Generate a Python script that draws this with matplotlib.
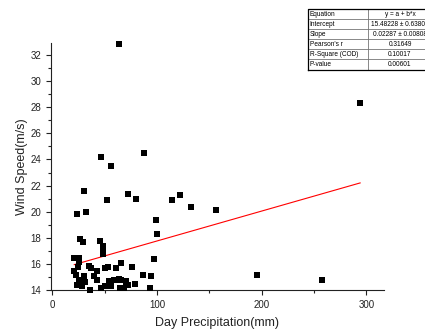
import numpy as np
import matplotlib
matplotlib.use("Agg")
from matplotlib import pyplot as plt

plt.rcParams['font.family'] = ['Liberation Sans', 'DejaVu Sans']

# day precipitation (mm) and wind speed (m/s)
precip = [21, 25.5, 25.8, 21, 23, 25, 26.7, 29, 30.6, 26, 24, 28.7, 31.5,
          35, 37, 36.3, 40, 42.7, 42.7, 45.8, 48.4, 48.4, 48.4, 46.8, 50,
          50.3, 52.8, 54.4, 56.4, 58.5, 61, 62.4, 65, 65.6, 65.6, 68.8,
          70.7, 72.6, 76.4, 79, 86.6, 94, 93.6, 97, 63.3, 70,
          23.6, 30.6, 32.5, 52.5, 56.4, 72.6, 80, 99.3, 100.3, 114.3,
          122.3, 132.8, 156.6, 195.5, 257.6, 294, 64, 47, 88]
wind = [16.5, 16.5, 16.2, 15.5, 15.2, 15.8, 17.9, 17.7, 15.1, 14.8, 14.4,
        14.3, 14.6, 15.85, 15.7, 14.0, 15.1, 15.5, 14.8, 17.8, 17.4, 17.1,
        16.8, 14.15, 14.35, 15.7, 15.8, 14.7, 14.3, 14.8, 15.7, 14.8, 14.2,
        16.1, 14.8, 14.15, 14.7, 14.4, 15.8, 14.45, 15.2, 15.1, 14.2, 16.4,
        14.9, 14.55,
        19.8, 21.6, 20.0, 20.9, 23.5, 21.35, 21.0, 19.4, 18.3, 20.9,
        21.3, 20.4, 20.1, 15.2, 14.8, 28.3, 32.8, 24.2, 24.5]

# linear fit reported in the table
intercept = 15.48228
slope = 0.02287

table_keys = ["Equation", "Intercept", "Slope", "Pearson's r",
              "R-Square (COD)", "P-value"]
table_vals = ["y = a + b*x", "15.48228 \u00b1 0.63808", "0.02287 \u00b1 0.00808",
              "0.31649", "0.10017", "0.00601"]

fig = plt.figure(figsize=(4.25, 3.29), dpi=100)
ax = fig.add_axes([51/425, 1-290.3/329, (383.7-51)/425, (290.3-43)/329])

ax.scatter(precip, wind, marker="s", s=20, color="black", linewidths=0,
           zorder=3, clip_on=False)
xf = np.array([min(precip), max(precip)])
ax.plot(xf, intercept + slope*xf, color="red", lw=0.8, zorder=2)

ax.set_xlim(-1.2, 316.5)
ax.set_ylim(14, 32.9)
ax.set_xticks([0, 100, 200, 300])
ax.set_xticks([50, 150, 250], minor=True)
ax.set_yticks(np.arange(14, 33, 2))
ax.set_yticks(np.arange(15, 33, 2), minor=True)
for s in ["top", "right"]:
    ax.spines[s].set_visible(False)
for s in ["left", "bottom"]:
    ax.spines[s].set_linewidth(0.8)
    ax.spines[s].set_color("#222222")
ax.tick_params(which="major", direction="out", length=3.5, width=0.8,
               labelsize=7, colors="#222222")
ax.tick_params(which="minor", direction="out", length=2, width=0.8, colors="#222222")
ax.set_xlabel("Day Precipitation(mm)", fontsize=9, labelpad=5, color="#222222")
ax.set_ylabel("Wind Speed(m/s)", fontsize=9, labelpad=2, color="#222222")

# fit results table, upper right
tax = fig.add_axes([308/425, 1-69.5/329, (432-308)/425, (69.5-9)/329])
tax.axis("off")
cells = [[k, v] for k, v in zip(table_keys, table_vals)]
tb = tax.table(cellText=cells, bbox=[0, 0, 1, 1], colWidths=[60, 64],
               cellLoc="center")
tb.auto_set_font_size(False)
for (r, c), cell in tb.get_celld().items():
    cell.set_linewidth(0.4)
    cell.set_edgecolor("#555555")
    cell.get_text().set_fontsize(4.7)
    if c == 0:
        cell.get_text().set_ha("left")
        cell.PAD = 0.03
tax.plot([0, 1, 1, 0, 0], [0, 0, 1, 1, 0], color="black", lw=0.9,
         transform=tax.transAxes, clip_on=False)

fig.savefig("out.png", dpi=100)
